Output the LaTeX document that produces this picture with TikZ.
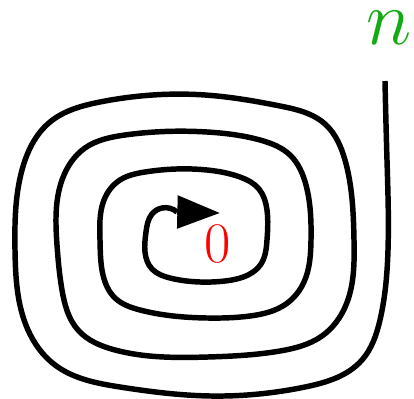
\RequirePackage{fix-cm}
\documentclass[tikz,border=0pt]{standalone}
\usetikzlibrary{arrows.meta, hobby}
\definecolor{labelGreen}{RGB}{20,170,20}
\definecolor{labelRed}{RGB}{255,0,0}

\begin{document}
\begin{tikzpicture}[x=0.75pt, y=-0.75pt,
    spiral/.style={line width=4.1pt, line join=round},
    every node/.style={inner sep=0pt}]
    \useasboundingbox (0,0) rectangle (414,399);
    \coordinate (outer) at (385,81);
    \coordinate (inner) at (177,212);
    \coordinate (tip) at (220,213);
    % spiral, from the outer end to the centre
    \draw[spiral, use Hobby shortcut] (outer) .. (387,160) .. (388,250) .. (380,320)
      .. (362,360) .. (305,387) .. (210,396) .. (120,387)
      .. (55,365) .. (28,330) .. (15,250) .. (22,170)
      .. (50,122) .. (100,102) .. (205,95) .. (280,106)
      .. (325,124) .. (345,160) .. (354,240) .. (346,305)
      .. (322,336) .. (280,351) .. (208,357) .. (115,350)
      .. (78,330) .. (62,290) .. (57,245) .. (62,180)
      .. (85,148) .. (125,135) .. (207,132) .. (260,140)
      .. (290,155) .. (306,185) .. (311,240) .. (304,282)
      .. (286,304) .. (250,316) .. (207,318) .. (140,310)
      .. (115,298) .. (103,275) .. (100,240) .. (104,200)
      .. (120,180) .. (145,172) .. (207,170) .. (240,177)
      .. (259,189) .. (267,210) .. (267,240) .. (261,264)
      .. (248,275) .. (225,281) .. (200,282) .. (170,278)
      .. (152,269) .. (145,252) .. (146,232) .. (152,214)
      .. (162,208) .. (inner);
    \draw[spiral, -{Triangle[length=32pt, width=24pt]}] (inner) -- (tip);
    \node[text=labelRed, font=\fontsize{43}{48}\selectfont] (zero) at (218,244) {$0$};
    \node[text=labelGreen, font=\fontsize{58}{64}\selectfont] (enn) at (389,28) {$n$};
\end{tikzpicture}
\end{document}
